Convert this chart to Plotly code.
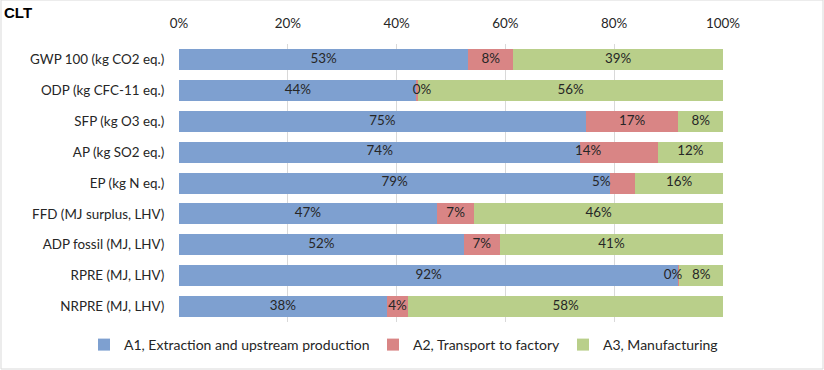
import plotly.graph_objects as go

categories = ["GWP 100 (kg CO2 eq.)", "ODP (kg CFC-11 eq.)", "SFP (kg O3 eq.)",
              "AP (kg SO2 eq.)", "EP (kg N eq.)", "FFD (MJ surplus, LHV)",
              "ADP fossil (MJ, LHV)", "RPRE (MJ, LHV)", "NRPRE (MJ, LHV)"]
series_names = ["A1, Extraction and upstream production", "A2, Transport to factory", "A3, Manufacturing"]
a1 = [53.2, 43.7, 74.8, 73.8, 79.3, 47.4, 52.3, 91.8, 38.2]
a2 = [8.2, 0.3, 17.0, 14.2, 4.6, 6.9, 6.7, 0.2, 3.9]
a3 = [38.6, 56.0, 8.2, 12.0, 16.1, 45.7, 41.0, 8.0, 57.9]
a1_labels = ["53%", "44%", "75%", "74%", "79%", "47%", "52%", "92%", "38%"]
a2_labels = ["8%", "0%", "17%", "14%", "5%", "7%", "7%", "0%", "4%"]
a3_labels = ["39%", "56%", "8%", "12%", "16%", "46%", "41%", "8%", "58%"]
tick_vals = [0, 20, 40, 60, 80, 100]
tick_text = ["0%", "20%", "40%", "60%", "80%", "100%"]

# --- styling ---
colors = ["#7ea0d0", "#d98585", "#b9cf8a"]
FONT = "Lato"
FS = 13.4
TXT = "#262626"
# small label nudges (in axis %) for crowded A2 labels, as placed in the original
a2_label_nudge = [0, 0.8, 0, -5.7, -4.0, 0, 0, -1.1, 0]

fig = go.Figure()
series = [a1, a2, a3]
labels = [a1_labels, a2_labels, a3_labels]
nudges = [[0] * len(categories), a2_label_nudge, [0] * len(categories)]
legend_ids = ["legend", "legend2", "legend3"]
for name, vals, col, lg in zip(series_names, series, colors, legend_ids):
    fig.add_trace(go.Bar(y=categories, x=vals, name=name, orientation="h",
                         marker=dict(color=col, line=dict(width=0)),
                         hoverinfo="skip", legend=lg))

# labels at segment centres
base = [0.0] * len(categories)
for vals, labs, nd in zip(series, labels, nudges):
    centers = [b + v / 2 + n for b, v, n in zip(base, vals, nd)]
    fig.add_trace(go.Scatter(y=categories, x=centers, text=labs, mode="text",
                             textfont=dict(family=FONT, size=FS, color=TXT),
                             showlegend=False, hoverinfo="skip", cliponaxis=False))
    base = [b + v for b, v in zip(base, vals)]

W_PLOT = 544.0
H_PLOT = 278.0
def px_x(p):
    return (p - 179) / W_PLOT

leg_common = dict(orientation="h", xanchor="left", y=-23 / H_PLOT, yanchor="middle",
                  font=dict(family=FONT, size=14, color=TXT), itemwidth=30,
                  bgcolor="rgba(0,0,0,0)")

fig.update_layout(
    barmode="stack",
    bargap=0.32,
    width=824, height=370,
    margin=dict(l=179, r=101, t=44, b=48, autoexpand=False),
    paper_bgcolor="white", plot_bgcolor="white",
    font=dict(family=FONT, size=FS, color=TXT),
    xaxis=dict(side="top", range=[0, 100], tickvals=tick_vals, ticktext=tick_text,
               showgrid=True, gridcolor="#d9d9d9", gridwidth=1, zeroline=False,
               showline=False, ticks="", tickfont=dict(family=FONT, size=FS, color=TXT),
               ticklabelstandoff=12, fixedrange=True),
    yaxis=dict(autorange="reversed", showgrid=False, showline=False, ticks="",
               ticksuffix="    ", tickfont=dict(family=FONT, size=FS, color=TXT),
               fixedrange=True),
    legend=dict(x=px_x(124 - 40), **leg_common),
    legend2=dict(x=px_x(413 - 40), **leg_common),
    legend3=dict(x=px_x(603 - 40), **leg_common),
    showlegend=True,
)
fig.add_annotation(text="<b>CLT</b>", xref="paper", yref="paper",
                   x=-179 / W_PLOT, y=1 + 44 / H_PLOT, xanchor="left", yanchor="top",
                   xshift=2, yshift=-2, showarrow=False,
                   font=dict(family="Liberation Sans", size=15, color="#000000"))
fig.add_shape(type="rect", xref="paper", yref="paper",
              x0=-178 / W_PLOT, x1=1 + 100 / W_PLOT, y0=-47 / H_PLOT, y1=1 + 44 / H_PLOT,
              line=dict(color="#d9d9d9", width=1), fillcolor="rgba(0,0,0,0)")

fig.write_html("out.html", config={"displayModeBar": False},
               post_script="document.body.style.margin='0px';")
